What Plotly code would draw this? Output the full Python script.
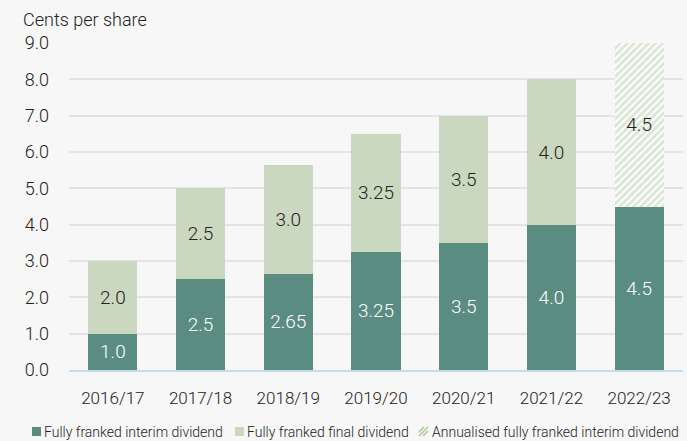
import plotly.graph_objects as go

years = ["2016/17", "2017/18", "2018/19", "2019/20", "2020/21", "2021/22", "2022/23"]
interim = [1.0, 2.5, 2.65, 3.25, 3.5, 4.0, 4.5]
final_years = years[:6]
final = [2.0, 2.5, 3.0, 3.25, 3.5, 4.0]
annual_years = ["2022/23"]
annualised = [4.5]
y_ticks = [0, 1, 2, 3, 4, 5, 6, 7, 8, 9]
legend_names = ["Fully franked interim dividend", "Fully franked final dividend",
                "Annualised fully franked interim dividend"]


def fmt(v):
    s = f"{v:.2f}"
    return s[:-1] if s.endswith("0") else s


FONT = "Roboto"
DARK = "#5a8c82"
LIGHT = "#cbd8c0"
HATCH = "#bccfae"
TXT = "#222222"

W, H = 687, 441
L, R, T, B = 69, 4, 43, 71
PW, PH = W - L - R, H - T - B


def px(x):
    return (x - L) / PW


def py(y):
    return (H - B - y) / PH


fig = go.Figure()
fig.add_trace(go.Bar(
    x=years, y=interim, name=legend_names[0],
    marker=dict(color=DARK, line=dict(width=0)),
    text=[fmt(v) for v in interim], textposition="inside", insidetextanchor="middle",
    textfont=dict(color="white", size=19, family=FONT, weight=300), textangle=0,
))
fig.add_trace(go.Bar(
    x=final_years, y=final, name=legend_names[1],
    marker=dict(color=LIGHT, line=dict(width=0)),
    text=[fmt(v) for v in final], textposition="inside", insidetextanchor="middle",
    textfont=dict(color=TXT, size=19, family=FONT, weight=300), textangle=0,
))
fig.add_trace(go.Bar(
    x=annual_years, y=annualised, name=legend_names[2],
    marker=dict(color="white", line=dict(width=0),
                pattern=dict(shape="/", fgcolor=HATCH, bgcolor="#ffffff", size=5, solidity=0.6)),
    text=[fmt(v) for v in annualised], textposition="inside", insidetextanchor="middle",
    textfont=dict(color=TXT, size=19, family=FONT, weight=300), textangle=0,
))

# manual legend (pixel layout converted to paper coordinates)
shapes = []
annotations = []
sq_x = [32, 235, 419]
txt_x = [44, 247, 432]
sq_top, sq_bot = 427, 436
fills = [DARK, LIGHT, "#ffffff"]
for i in range(3):
    shapes.append(dict(type="rect", xref="paper", yref="paper",
                       x0=px(sq_x[i]), x1=px(sq_x[i] + 9), y0=py(sq_bot), y1=py(sq_top),
                       fillcolor=fills[i], line=dict(width=0)))
    annotations.append(dict(text=legend_names[i], xref="paper", yref="paper",
                            x=px(txt_x[i] - 2), y=py(431.5), xanchor="left", yanchor="middle",
                            showarrow=False, font=dict(size=14, color=TXT, family=FONT, weight=300)))
hx = sq_x[2]
for (a, b, c, d) in [(0, 432, 5, 427), (0, 436, 9, 427), (4, 436, 9, 431)]:
    shapes.append(dict(type="line", xref="paper", yref="paper",
                       x0=px(hx + a), y0=py(b), x1=px(hx + c), y1=py(d),
                       line=dict(color=HATCH, width=2)))

annotations.append(dict(text="Cents per share", xref="paper", yref="paper", x=px(21), y=1.0,
                        xanchor="left", yanchor="bottom", yshift=11, showarrow=False,
                        font=dict(size=18, color=TXT, family=FONT, weight=300)))

fig.update_layout(
    width=W, height=H,
    barmode="stack", bargap=0.44,
    paper_bgcolor="#f7f7f7", plot_bgcolor="#f7f7f7",
    font=dict(family=FONT, size=16, color=TXT, weight=300),
    margin=dict(l=L, r=R, t=T, b=B, autoexpand=False),
    showlegend=False,
    shapes=shapes,
    annotations=annotations,
)
fig.update_yaxes(range=[0, 9], tickvals=y_ticks, tickformat=".1f", showgrid=True,
                 gridcolor="#e4e4e4", gridwidth=1.5, zeroline=False, automargin=False,
                 tickfont=dict(size=18, weight=300), ticks="", showline=False, ticklabelstandoff=19)
fig.update_xaxes(showgrid=False, showline=True, linecolor="#c8daf0", linewidth=2, automargin=False,
                 tickfont=dict(size=17, weight=300), ticks="", ticklabelstandoff=12)

fig.write_html("out.html", config={"displayModeBar": False},
               post_script="document.body.style.margin='0';document.body.style.background='#f7f7f7';")
